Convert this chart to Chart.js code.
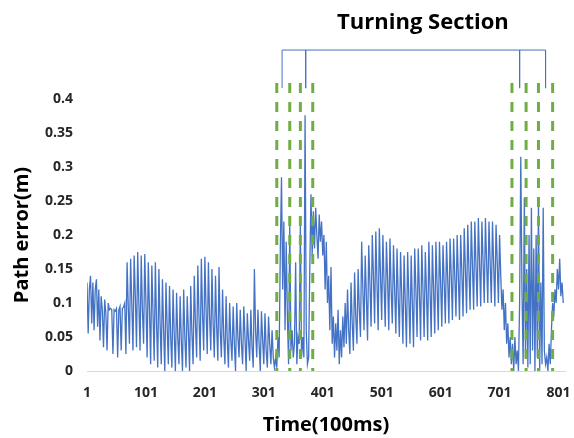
<!DOCTYPE html>
<html>
<head>
<meta charset="utf-8">
<script src="https://cdn.jsdelivr.net/npm/chart.js@4/dist/chart.umd.min.js"></script>
<style>
  html, body { margin: 0; padding: 0; background: #ffffff; }
  #wrap { width: 574px; height: 438px; }
</style>
</head>
<body>
<div id="wrap"><canvas id="pathChart" width="574" height="438"></canvas></div>
<script>
// -----------------------------
// Data
// -----------------------------
const firstSample = 1;
const sampleStep = 2;

// path error (m), one value every 2 samples (1, 3, 5, ... 809)
const pathError = [
    0.13, 0.055, 0.12, 0.14, 0.07, 0.13, 0.06, 0.12, 0.135, 0.065,
    0.12, 0.045, 0.11, 0.09, 0.035, 0.105, 0.085, 0.03, 0.1, 0.09,
    0.092, 0.09, 0.025, 0.09, 0.088, 0.092, 0.02, 0.09, 0.095, 0.03,
    0.092, 0.094, 0.1, 0.025, 0.16, 0.095, 0.04, 0.165, 0.1, 0.03,
    0.17, 0.11, 0.035, 0.175, 0.1, 0.03, 0.17, 0.09, 0.04, 0.172,
    0.1, 0.02, 0.16, 0.09, 0.01, 0.155, 0.085, 0.015, 0.16, 0.07,
    0.005, 0.15, 0.07, 0.01, 0.135, 0.06, 0.0, 0.13, 0.065, 0.01,
    0.125, 0.05, 0.005, 0.12, 0.055, 0.0, 0.115, 0.05, 0.01, 0.11,
    0.045, 0.0, 0.12, 0.05, 0.005, 0.11, 0.06, 0.0, 0.125, 0.055,
    0.01, 0.14, 0.07, 0.02, 0.155, 0.08, 0.015, 0.165, 0.085, 0.03,
    0.168, 0.09, 0.025, 0.16, 0.08, 0.03, 0.15, 0.07, 0.02, 0.14,
    0.065, 0.015, 0.153, 0.06, 0.02, 0.12, 0.05, 0.01, 0.11, 0.045,
    0.005, 0.1, 0.045, 0.015, 0.095, 0.04, 0.0, 0.1, 0.05, 0.02,
    0.09, 0.04, 0.01, 0.095, 0.05, 0.0, 0.085, 0.045, 0.015, 0.09,
    0.035, 0.005, 0.15, 0.06, 0.02, 0.09, 0.04, 0.0, 0.088, 0.045,
    0.01, 0.085, 0.03, 0.005, 0.08, 0.04, 0.01, 0.06, 0.02, 0.005,
    0.02, 0.005, 0.05, 0.02, 0.18, 0.285, 0.12, 0.22, 0.06, 0.19,
    0.08, 0.01, 0.215, 0.03, 0.06, 0.02, 0.04, 0.16, 0.01, 0.05,
    0.04, 0.215, 0.02, 0.05, 0.02, 0.376, 0.06, 0.01, 0.02, 0.15,
    0.26, 0.17, 0.235, 0.18, 0.24, 0.2, 0.165, 0.23, 0.19, 0.22,
    0.17, 0.2, 0.12, 0.19, 0.1, 0.14, 0.06, 0.153, 0.04, 0.08,
    0.02, 0.07, 0.03, 0.09, 0.01, 0.06, 0.02, 0.08, 0.035, 0.1,
    0.04, 0.12, 0.06, 0.025, 0.13, 0.07, 0.03, 0.145, 0.08, 0.04,
    0.15, 0.09, 0.05, 0.19, 0.12, 0.06, 0.17, 0.11, 0.045, 0.185,
    0.13, 0.065, 0.2, 0.14, 0.07, 0.205, 0.13, 0.06, 0.21, 0.14,
    0.075, 0.2, 0.13, 0.065, 0.19, 0.135, 0.06, 0.195, 0.12, 0.07,
    0.185, 0.12, 0.055, 0.18, 0.11, 0.05, 0.175, 0.11, 0.04, 0.17,
    0.1, 0.035, 0.175, 0.11, 0.04, 0.17, 0.1, 0.035, 0.18, 0.12,
    0.05, 0.18, 0.115, 0.045, 0.185, 0.12, 0.05, 0.175, 0.115, 0.045,
    0.19, 0.12, 0.05, 0.185, 0.12, 0.055, 0.19, 0.125, 0.06, 0.19,
    0.13, 0.065, 0.185, 0.13, 0.07, 0.19, 0.135, 0.07, 0.195, 0.14,
    0.075, 0.195, 0.14, 0.08, 0.2, 0.14, 0.075, 0.2, 0.145, 0.08,
    0.21, 0.15, 0.085, 0.215, 0.15, 0.09, 0.22, 0.155, 0.09, 0.22,
    0.155, 0.095, 0.225, 0.16, 0.095, 0.22, 0.16, 0.1, 0.225, 0.16,
    0.1, 0.22, 0.16, 0.1, 0.22, 0.155, 0.095, 0.215, 0.16, 0.1,
    0.2, 0.14, 0.09, 0.12, 0.06, 0.1, 0.04, 0.07, 0.02, 0.05,
    0.01, 0.04, 0.0, 0.05, 0.01, 0.03, 0.0, 0.1, 0.315, 0.12,
    0.01, 0.255, 0.02, 0.15, 0.005, 0.2, 0.01, 0.24, 0.03, 0.18,
    0.0, 0.2, 0.02, 0.25, 0.0, 0.13, 0.01, 0.24, 0.03, 0.01,
    0.02, 0.0, 0.04, 0.01, 0.06, 0.1, 0.08, 0.12, 0.1, 0.15,
    0.12, 0.165, 0.11, 0.13, 0.1
];

const xTickLabels = [1, 101, 201, 301, 401, 501, 601, 701, 801];
const yTickLabels = [0, 0.05, 0.1, 0.15, 0.2, 0.25, 0.3, 0.35, 0.4];

// green dashed markers (time index)
const dashMarks = [323, 345, 363, 384, 722, 746, 767, 791];
// turning section bracket: outer legs and inner legs (time index)
const bracketOuter = [332, 779];
const bracketInner = [372, 735];

const sectionTitle = "Turning Section";

// -----------------------------
// Layout constants
// -----------------------------
const X_MIN = 1, X_MAX = 812;
const DASH_TOP = 0.4235;
const BRACKET_TOP = 0.472;
const BRACKET_LEG = 0.416;
const TITLE_X = 571, TITLE_Y = 0.512;

const BLUE = "#4472C4";
const GREEN = "#70AD47";
const FONT = "'Open Sans', 'Liberation Sans', sans-serif";

// -----------------------------
// Datasets
// -----------------------------
const errorPoints = pathError.map((v, i) => ({ x: firstSample + i * sampleStep, y: v }));

function vLine(x, y0, y1) {
    return [{ x: x, y: y0 }, { x: x, y: y1 }];
}

const datasets = [];

datasets.push({
    label: "Path error",
    data: errorPoints,
    borderColor: BLUE,
    borderWidth: 1.3,
    pointRadius: 0,
    tension: 0,
    order: 3
});

dashMarks.forEach(m => {
    datasets.push({
        data: vLine(m, DASH_TOP, 0),
        borderColor: GREEN,
        borderWidth: 3,
        borderDash: [10, 9],
        pointRadius: 0,
        clip: false,
        order: 1
    });
});

datasets.push({
    data: [
        { x: bracketOuter[0], y: BRACKET_LEG },
        { x: bracketOuter[0], y: BRACKET_TOP },
        { x: bracketOuter[1], y: BRACKET_TOP },
        { x: bracketOuter[1], y: BRACKET_LEG }
    ],
    borderColor: BLUE,
    borderWidth: 1,
    pointRadius: 0,
    clip: false,
    order: 0
});

bracketInner.forEach(m => {
    datasets.push({
        data: vLine(m, BRACKET_TOP, BRACKET_LEG),
        borderColor: BLUE,
        borderWidth: 1,
        pointRadius: 0,
        clip: false,
        order: 0
    });
});

// -----------------------------
// Title over the bracket
// -----------------------------
const sectionTitlePlugin = {
    id: "sectionTitle",
    afterDraw(chart) {
        const ctx = chart.ctx;
        const x = chart.scales.x.getPixelForValue(TITLE_X);
        const y = chart.scales.y.getPixelForValue(TITLE_Y);
        ctx.save();
        ctx.font = "bold 22px " + FONT;
        ctx.fillStyle = "#000000";
        ctx.textAlign = "center";
        ctx.textBaseline = "middle";
        ctx.fillText(sectionTitle, x, y);
        ctx.restore();
    }
};

new Chart(document.getElementById("pathChart"), {
    type: "line",
    data: { datasets: datasets },
    options: {
        responsive: false,
        animation: false,
        events: [],
        layout: { padding: { top: 99, right: 9, left: 0, bottom: 0 } },
        plugins: {
            legend: { display: false },
            tooltip: { enabled: false }
        },
        scales: {
            x: {
                type: "linear",
                min: X_MIN,
                max: X_MAX,
                afterBuildTicks: s => { s.ticks = xTickLabels.map(v => ({ value: v })); },
                afterFit: s => {
                    s.height = 67;
                    s.paddingLeft = 0;
                    s.paddingRight = 0;
                },
                grid: { display: false, drawTicks: false },
                border: { display: true, color: "#d9d9d9", width: 1 },
                ticks: {
                    padding: 14,
                    maxRotation: 0,
                    autoSkip: false,
                    color: "#262626",
                    font: { family: FONT, size: 14, weight: "bold" },
                    callback: v => String(v)
                },
                title: {
                    display: true,
                    text: "Time(100ms)",
                    color: "#000000",
                    font: { family: FONT, size: 20, weight: "bold" },
                    padding: { top: 0, bottom: 1 }
                }
            },
            y: {
                min: 0,
                max: 0.4,
                afterBuildTicks: s => { s.ticks = yTickLabels.map(v => ({ value: v })); },
                afterFit: s => {
                    s.width = 87;
                    s.paddingTop = 0;
                    s.paddingBottom = 0;
                },
                grid: { display: false, drawTicks: false },
                border: { display: false },
                ticks: {
                    padding: 14,
                    color: "#262626",
                    font: { family: FONT, size: 14, weight: "bold" },
                    callback: v => String(+v.toFixed(2))
                },
                title: {
                    display: true,
                    text: "Path error(m)",
                    color: "#000000",
                    font: { family: FONT, size: 20, weight: "bold" },
                    padding: { top: 10, bottom: 0 }
                }
            }
        }
    },
    plugins: [sectionTitlePlugin]
});
</script>
</body>
</html>
